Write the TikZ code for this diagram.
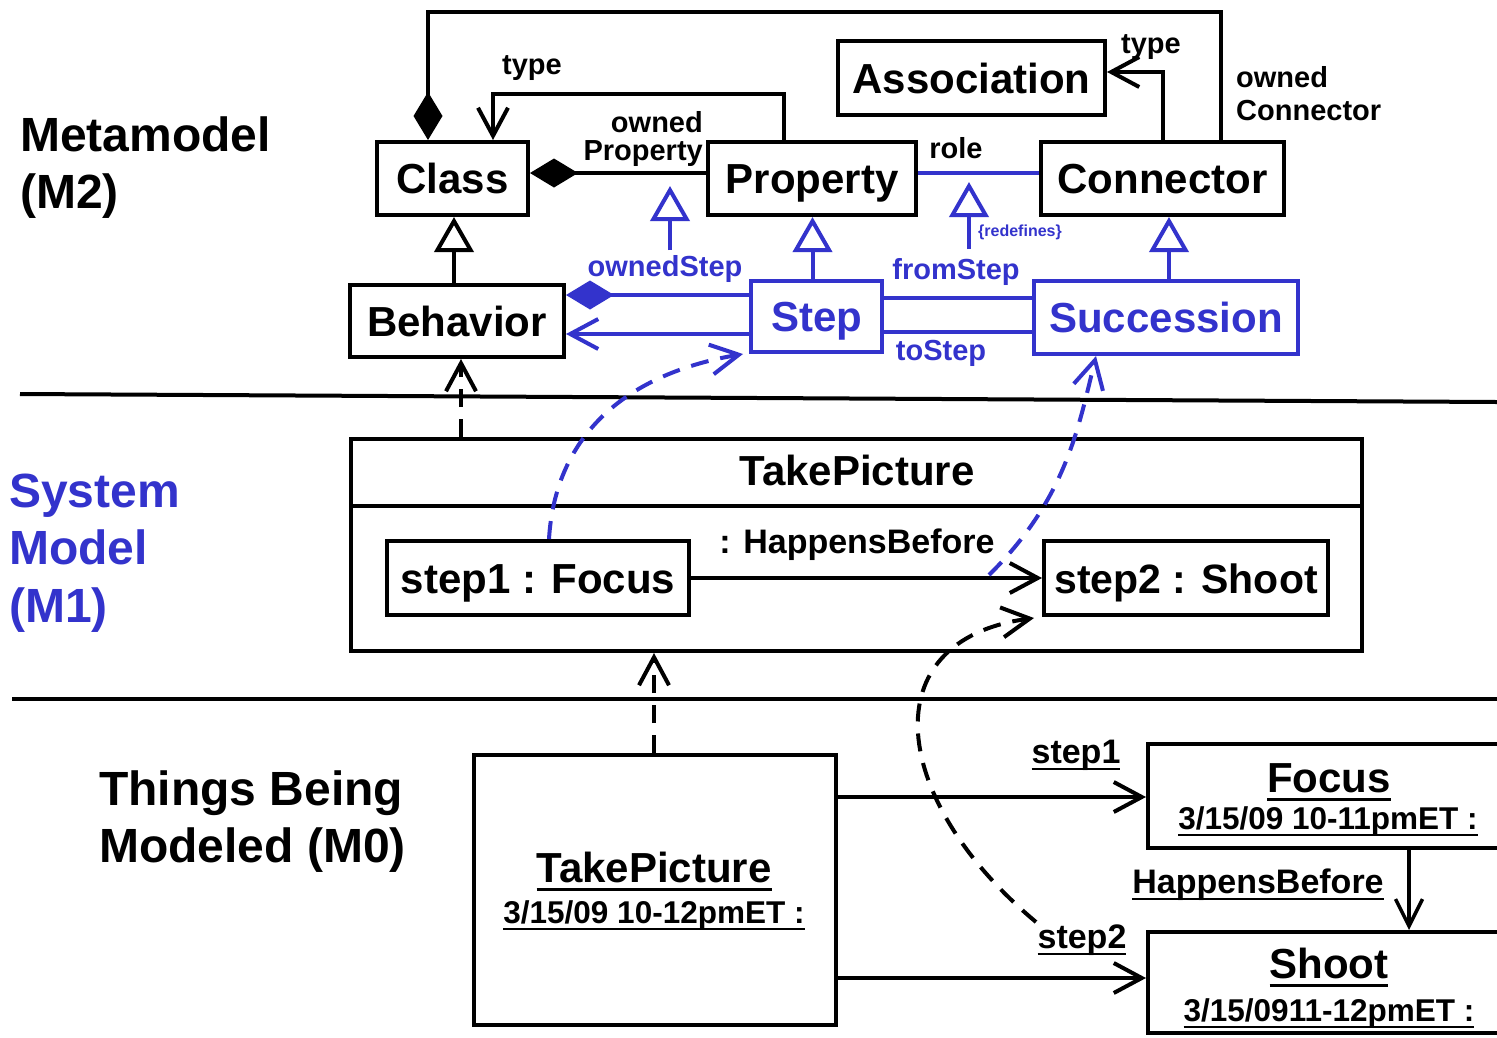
\documentclass[tikz,border=0pt]{standalone}
\usepackage{fontspec}
\setmainfont{Liberation Sans}
\usetikzlibrary{arrows.meta,calc}
\definecolor{myblue}{RGB}{51,51,204}
\newcommand\fsz[1]{\fontsize{#1}{#1}\selectfont\bfseries}
\newsavebox\myulbox
\newcommand\myul[1]{\sbox\myulbox{#1}\rlap{\rule[-0.22em]{\wd\myulbox}{0.07em}}\usebox\myulbox}
\tikzset{
  myvee/.tip={Straight Barb[length=28pt,width=30pt]},
  mygen/.tip={Triangle[length=35pt,width=39pt,fill=white]},
  mycomp/.tip={Diamond[length=48pt,width=29pt]},
  lw/.style={line width=4pt},
  dsh/.style={dash pattern=on 18pt off 12pt},
  mbox/.style={draw, line width=4pt, font=\fsz{42}, inner sep=0pt, text height=30pt, text depth=0pt},
  bbox/.style={mbox, draw=myblue, text=myblue},
  lab/.style={font=\fsz{29}, inner sep=0pt},
  blab/.style={lab, text=myblue},
  sec/.style={font=\fsz{48}, inner sep=0pt, anchor=base west},
  mid/.style={font=\fsz{34}, inner sep=0pt},
  dat/.style={font=\fsz{31.5}, inner sep=0pt, anchor=base},
}
\begin{document}
\begin{tikzpicture}[x=1pt,y=-1pt]
\useasboundingbox (0,0) rectangle (1497,1037);
\clip (0,0) rectangle (1497,1037);
\fill[white] (0,0) rectangle (1497,1037);

% ---------- section labels
\node[sec] (t1a) at (20,151) {Metamodel};
\node[sec] (t1b) at (20,208) {(M2)};
\node[sec,text=myblue] (t2a) at (9,507) {System};
\node[sec,text=myblue] (t2b) at (9,564) {Model};
\node[sec,text=myblue] (t2c) at (9,622) {(M1)};
\node[sec] (t3a) at (99,805) {Things Being};
\node[sec] (t3b) at (99,862) {Modeled (M0)};

% ---------- separators
\coordinate (s1l) at (20,394); \coordinate (s1r) at (1497,402);
\coordinate (s2l) at (12,699); \coordinate (s2r) at (1497,699);
\draw[lw] (s1l) -- (s1r);
\draw[lw] (s2l) -- (s2r);

% ---------- M2
\node[mbox, minimum width=151, minimum height=73] (class) at (452.5,178.5) {Class};
\node[mbox, minimum width=208, minimum height=73] (property) at (812,178.5) {Property};
\node[mbox, minimum width=267, minimum height=74] (assoc) at (971.5,78) {Association};
\node[mbox, minimum width=243, minimum height=73] (connector) at (1162.5,178.5) {Connector};
\node[mbox, minimum width=214, minimum height=72] (behavior) at (457,321) {Behavior};
\node[bbox, minimum width=131, minimum height=71] (step) at (816.5,316.5) {Step};
\node[bbox, minimum width=264, minimum height=73] (succ) at (1166,317.5) {Succession};

% owned connector composition
\draw[lw, {mycomp}-] (class.north -| 428,0) |- (1221,12) -- (connector.north -| 1221,0);
% type (property -> class)
\draw[lw, -{myvee}] (property.north -| 784,0) |- (493,94) -- (class.north -| 493,0);
\node[lab] (ltype1) at (532,68) {type};
% owned property
\draw[lw, {mycomp}-] (class.east |- 0,173) -- (property.west |- 0,173);
\node[lab, anchor=east] (lop1) at (703,122) {owned};
\node[lab, anchor=east] (lop2) at (703,154) {Property};
% generalization Behavior -> Class
\draw[lw, -{mygen}] (behavior.north -| 454,0) -- (class.south -| 454,0);
% type (connector -> association)
\draw[lw, -{myvee}] (connector.north -| 1163,0) |- (assoc.east |- 0,72);
\node[lab] (ltype2) at (1151,47) {type};
\node[lab, anchor=west] (loc1) at (1236,77) {owned};
\node[lab, anchor=west] (loc2) at (1236,111) {Connector};
% role
\draw[lw, myblue] (property.east |- 0,173) -- (connector.west |- 0,173);
\node[lab] (lrole) at (956,148) {role};
% redefines generalizations
\coordinate (rd0) at (969,249); \coordinate (rd1) at (969,182);
\draw[lw, myblue, -{mygen}] (rd0) -- (rd1);
\node[blab, font=\fsz{16}] (lredef) at (1020,232) {\{redefines\}};
\coordinate (os0) at (670,250); \coordinate (os1) at (670,186);
\draw[lw, myblue, -{mygen}] (os0) -- (os1);
% Step -> Property, Succession -> Connector
\draw[lw, myblue, -{mygen}] (step.north -| 812.5,0) -- (property.south -| 812.5,0);
\draw[lw, myblue, -{mygen}] (succ.north -| 1169,0) -- (connector.south -| 1169,0);
% ownedStep
\draw[lw, myblue, {mycomp}-] (behavior.east |- 0,295) -- (step.west |- 0,295);
\node[blab] (lostep) at (665,269) {ownedStep};
\draw[lw, myblue, -{myvee}] (step.west |- 0,334) -- (behavior.east |- 0,334);
% fromStep / toStep
\draw[lw, myblue] (step.east |- 0,298) -- (succ.west |- 0,298);
\node[blab] (lfrom) at (956,272) {fromStep};
\draw[lw, myblue] (step.east |- 0,332) -- (succ.west |- 0,332);
\node[blab] (lto) at (941,353) {toStep};

% ---------- M1
\node[draw, lw, minimum width=1011, minimum height=212, inner sep=0pt] (tp1) at (856.5,545) {};
\draw[lw] (tp1.west |- 0,506) -- (tp1.east |- 0,506);
\node[font=\fsz{42}, inner sep=0pt, text height=30pt, text depth=0pt] (tp1t) at (857,470) {TakePicture};
\node[mbox, minimum width=302, minimum height=74] (s1) at (538,578) {step1 : Focus};
\node[mbox, minimum width=284, minimum height=74, font=\fsz{41}] (s2) at (1186,578) {step2 : Shoot};
\draw[lw, -{myvee}] (s1.east) -- (s2.west);
\node[mid] (lhb1) at (857,545) {: HappensBefore};
\draw[lw, dsh, -{myvee}] (tp1.north -| 461,0) -- (behavior.south -| 461,0);
% blue dashed instance-of curves
\coordinate (c1e) at (743,354);
\draw[lw, myblue, dsh, -{myvee}] (s1.north -| 549,0) .. controls (555,440) and (620,375) .. (c1e);
\coordinate (c2s) at (989,575);
\draw[lw, myblue, dsh, -{myvee}] (c2s) .. controls (1065,500) and (1078,430) .. (succ.south -| 1096,0);

% ---------- M0
\node[draw, lw, minimum width=362, minimum height=270, inner sep=0pt] (tp0) at (655,890) {};
\node[font=\fsz{42}, inner sep=0pt, anchor=base] (tp0t) at (654,882) {\myul{TakePicture}};
\node[dat] (tp0d) at (654,923) {\myul{3/15/09 10-12pmET :}};
\draw[lw, dsh, -{myvee}] (tp0.north -| 654,0) -- (tp1.south -| 654,0);

\node[draw, lw, minimum width=382, minimum height=104, inner sep=0pt] (focus) at (1339,796) {};
\node[font=\fsz{42}, inner sep=0pt, anchor=base] (focust) at (1329,792) {\myul{Focus}};
\node[dat] (focusd) at (1328,829) {\myul{3/15/09 10-11pmET :}};
\node[draw, lw, minimum width=382, minimum height=101, inner sep=0pt] (shoot) at (1339,982.5) {};
\node[font=\fsz{42}, inner sep=0pt, anchor=base] (shoott) at (1329,978) {\myul{Shoot}};
\node[dat] (shootd) at (1329,1021) {\myul{3/15/0911-12pmET :}};

\draw[lw, -{myvee}] (tp0.east |- 0,797) -- (focus.west |- 0,797);
\node[mid, anchor=base] (lst1) at (1076,763) {\myul{step1}};
\draw[lw, -{myvee}] (tp0.east |- 0,978) -- (shoot.west |- 0,978);
\node[mid, anchor=base] (lst2) at (1082,948) {\myul{step2}};
\draw[line width=3.5pt, -{Straight Barb[length=27pt,width=27pt]}] (focus.south -| 1409,0) -- (shoot.north -| 1409,0);
\node[mid, anchor=base] (lhb0) at (1258,893) {\myul{HappensBefore}};

% black dashed curve M0 -> M1
\coordinate (c3s) at (1036,922);
\coordinate (c3e) at (1034,618);
\draw[lw, dsh, -{myvee}] (c3s) .. controls (890,800) and (870,640) .. (c3e);
\end{tikzpicture}
\end{document}
